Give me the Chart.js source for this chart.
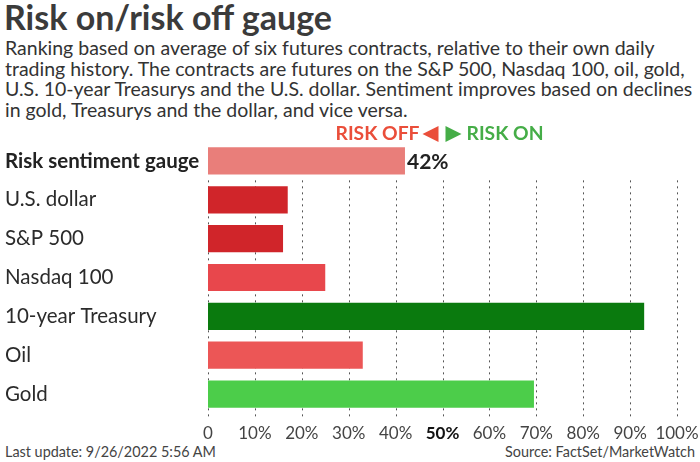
<!DOCTYPE html>
<html>
<head>
<meta charset="utf-8">
<script src="https://cdn.jsdelivr.net/npm/chart.js@4"></script>
<style>
    body { margin: 0; width: 700px; height: 462px; background: #fff; font-family: Lato, sans-serif; color: #333; position: relative; overflow: hidden; }
    #title { position: absolute; left: 4px; top: -4px; font-size: 34px; font-weight: bold; color: #3b3b3b; }
    #subtitle { position: absolute; left: 5px; top: 38px; width: 694px; font-size: 19.5px; line-height: 20.5px; color: #333; }
    #wrap { position: absolute; left: 0; top: 120px; width: 700px; height: 322px; }
    #updated { position: absolute; left: 5px; top: 443px; font-size: 14.4px; color: #444; }
    #source { position: absolute; right: 5px; top: 443px; font-size: 14.4px; color: #444; }
</style>
</head>
<body>
<div id="title">Risk on/risk off gauge</div>
<div id="subtitle">Ranking based on average of six futures contracts, relative to their own daily trading history. The contracts are futures on the S&amp;P 500, Nasdaq 100, oil, gold, U.S. 10-year Treasurys and the U.S. dollar. Sentiment improves based on declines in gold, Treasurys and the dollar, and vice versa.</div>
<div id="wrap"><canvas id="gauge"></canvas></div>
<div id="updated">Last update: 9/26/2022 5:56 AM</div>
<div id="source">Source: FactSet/MarketWatch</div>
<script>
// Data
const categories = ['Risk sentiment gauge', 'U.S. dollar', 'S&P 500', 'Nasdaq 100', '10-year Treasury', 'Oil', 'Gold'];
const values = [42, 17, 16, 25, 93, 33, 69.5];
const barColors = ['#E97E7A', '#D0252A', '#D0252A', '#E8474C', '#0A7A0E', '#EC5656', '#4CCD4A'];
const xTicks = [0, 10, 20, 30, 40, 50, 60, 70, 80, 90, 100];

// dotted grid, only below the sentiment row
const gridPlugin = {
    id: 'dottedGrid',
    beforeDatasetsDraw(chart) {
        const ctx = chart.ctx;
        const x = chart.scales.x;
        const y = chart.scales.y;
        const top = (y.getPixelForValue(0) + y.getPixelForValue(1)) / 2;
        const bottom = chart.chartArea.bottom + 5;
        ctx.save();
        ctx.strokeStyle = '#555';
        ctx.lineWidth = 1;
        ctx.setLineDash([2, 4]);
        xTicks.forEach(function(t) {
            const px = Math.round(x.getPixelForValue(t)) + 0.5;
            ctx.beginPath();
            ctx.moveTo(px, top);
            ctx.lineTo(px, bottom);
            ctx.stroke();
        });
        ctx.restore();
    }
};

// value label and risk off / risk on header
const labelPlugin = {
    id: 'labels',
    afterDatasetsDraw(chart) {
        const ctx = chart.ctx;
        const x = chart.scales.x;
        const bar = chart.getDatasetMeta(0).data[0];
        ctx.save();
        ctx.font = 'bold 21px Lato';
        ctx.fillStyle = '#222';
        ctx.textBaseline = 'middle';
        ctx.textAlign = 'left';
        ctx.fillText(values[0] + '%', bar.x + 2, bar.y + 1);

        const mid = x.getPixelForValue(50) - 1;
        const ly = 14;
        ctx.font = 'bold 19.3px Lato';
        ctx.fillStyle = '#EA4E3A';
        ctx.textAlign = 'right';
        ctx.fillText('RISK OFF', mid - 22, ly);
        ctx.beginPath();
        ctx.moveTo(mid - 3, ly - 8);
        ctx.lineTo(mid - 3, ly + 8);
        ctx.lineTo(mid - 19, ly);
        ctx.closePath();
        ctx.fill();
        ctx.fillStyle = '#45AD47';
        ctx.beginPath();
        ctx.moveTo(mid + 4, ly - 8);
        ctx.lineTo(mid + 4, ly + 8);
        ctx.lineTo(mid + 20, ly);
        ctx.closePath();
        ctx.fill();
        ctx.textAlign = 'left';
        ctx.fillText('RISK ON', mid + 25, ly);
        ctx.restore();
    }
};

const ctx = document.getElementById('gauge').getContext('2d');
new Chart(ctx, {
    type: 'bar',
    data: {
        labels: categories,
        datasets: [{
            data: values,
            backgroundColor: barColors,
            barPercentage: 0.7,
            categoryPercentage: 1
        }]
    },
    options: {
        indexAxis: 'y',
        responsive: true,
        maintainAspectRatio: false,
        animation: false,
        layout: { padding: { top: 21.5, left: 5, right: 23, bottom: 0 } },
        plugins: {
            legend: { display: false },
            tooltip: { enabled: false }
        },
        scales: {
            x: {
                min: 0,
                max: 100,
                afterBuildTicks: function(scale) {
                    scale.ticks = xTicks.map(function(v) { return { value: v }; });
                },
                afterFit: function(scale) {
                    scale.height = 28.5;
                    scale.paddingLeft = 0;
                    scale.paddingRight = 0;
                },
                grid: { display: false, drawTicks: false },
                border: { display: false },
                ticks: {
                    padding: 10,
                    maxRotation: 0,
                    autoSkip: false,
                    callback: function(v) { return v === 0 ? '0' : v + '%'; },
                    font: function(c) { return { family: 'Lato', size: 17, weight: c.tick && c.tick.value === 50 ? 'bold' : 'normal' }; },
                    color: function(c) { return c.tick && c.tick.value === 50 ? '#111' : '#444'; }
                }
            },
            y: {
                afterFit: function(scale) { scale.width = 203; },
                grid: { display: false, drawTicks: false },
                border: { display: false },
                ticks: {
                    crossAlign: 'far',
                    padding: 0,
                    autoSkip: false,
                    font: function(c) { return { family: 'Lato', size: 20.5, weight: c.index === 0 ? 'bold' : 'normal' }; },
                    color: function(c) { return c.index === 0 ? '#222' : '#2b2b2b'; }
                }
            }
        }
    },
    plugins: [gridPlugin, labelPlugin]
});
</script>
</body>
</html>
